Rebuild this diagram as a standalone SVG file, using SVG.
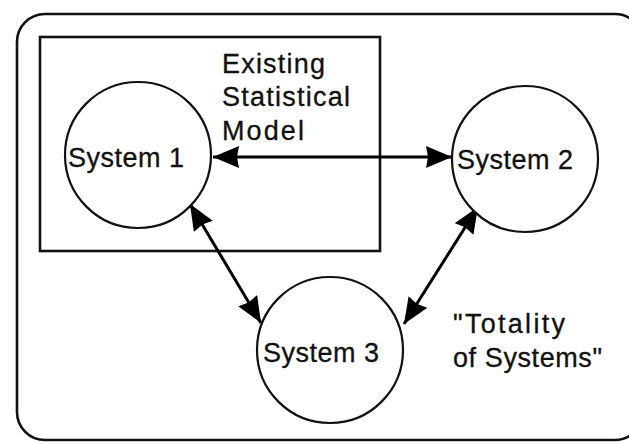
<svg xmlns="http://www.w3.org/2000/svg" width="629" height="443" viewBox="0 0 629 443">
  <defs>
    <!-- solid triangular arrowhead, tip at the path end -->
    <marker id="head" viewBox="0 0 26 22" refX="26" refY="11" markerWidth="26" markerHeight="22" markerUnits="userSpaceOnUse" orient="auto-start-reverse">
      <path d="M0,0 L26,11 L0,22 L2,11 Z" fill="#000"/>
    </marker>
  </defs>
  <style>
    .frame { fill: none; stroke: #111; stroke-width: 2.6; }
    .node { fill: #fff; stroke: #111; stroke-width: 2.2; }
    .label { font-family: "Liberation Sans", Arial, sans-serif; font-size: 27px; fill: #111; stroke: #111; stroke-width: 0.3; }
    .link { fill: none; stroke: #000; stroke-width: 3; marker-start: url(#head); marker-end: url(#head); }
  </style>

  <rect width="629" height="443" fill="#fff"/>

  <!-- outer boundary: "Totality of Systems" -->
  <g id="totality">
    <rect class="frame" x="17" y="14" width="626" height="426" rx="28" ry="28"/>
    <text class="label" x="453" y="333" textLength="112" lengthAdjust="spacing">"Totality</text>
    <text class="label" x="453" y="367" textLength="149" lengthAdjust="spacing">of Systems"</text>
  </g>

  <!-- box around the existing statistical model -->
  <g id="model">
    <rect class="frame" x="40" y="37" width="340" height="214"/>
    <text class="label" x="222" y="73" textLength="103" lengthAdjust="spacing">Existing</text>
    <text class="label" x="222" y="106" textLength="128" lengthAdjust="spacing">Statistical</text>
    <text class="label" x="222" y="140" textLength="82" lengthAdjust="spacing">Model</text>
  </g>

  <!-- connectors -->
  <g id="connectors">
    <line class="link" x1="213" y1="157" x2="452" y2="157"/>
    <line class="link" x1="190" y1="204" x2="261" y2="323"/>
    <line class="link" x1="478" y1="207" x2="404" y2="324"/>
  </g>

  <g id="system1">
    <circle class="node" cx="138" cy="155" r="73"/>
    <text class="label" x="68" y="167" textLength="116" lengthAdjust="spacing">System 1</text>
  </g>

  <g id="system2">
    <circle class="node" cx="525" cy="159" r="73"/>
    <text class="label" x="457" y="169" textLength="116" lengthAdjust="spacing">System 2</text>
  </g>

  <g id="system3">
    <circle class="node" cx="330" cy="350" r="73"/>
    <text class="label" x="263" y="362" textLength="116" lengthAdjust="spacing">System 3</text>
  </g>
</svg>
